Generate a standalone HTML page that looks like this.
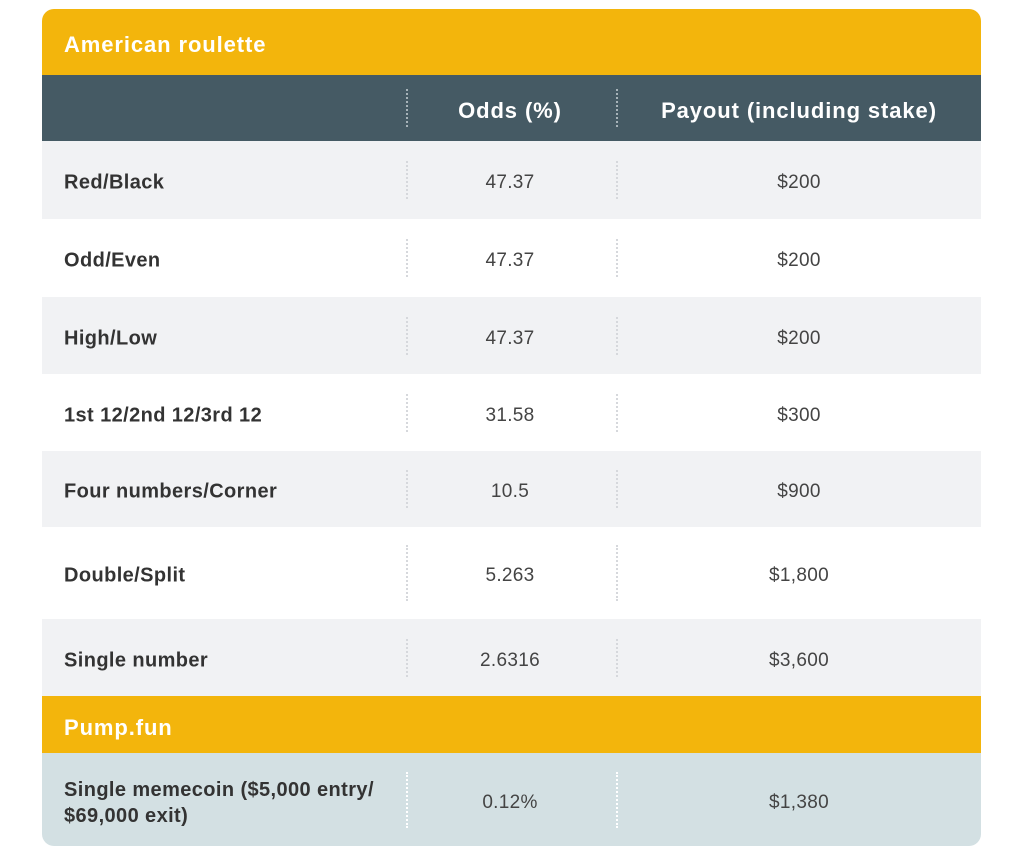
<!DOCTYPE html>
<html><head><style>
body{margin:0;width:1024px;height:854px;background:#fff;font-family:"Liberation Sans",sans-serif;position:relative;overflow:hidden}
.r{position:absolute;left:42px;width:939px;}
.t{position:absolute;top:50%;transform:translateY(-50%);margin-top:3px;font-size:19px;color:#333;white-space:nowrap}
.l{left:22px;font-weight:bold;font-size:20px;letter-spacing:0.4px}
.c1{left:368px;width:200px;text-align:center;color:#444;letter-spacing:0.3px}
.c2{left:557px;width:400px;text-align:center;color:#444;letter-spacing:0.3px}
.d{position:absolute;top:50%;height:38px;margin-top:-19px;border-left:2px dotted #d6d8dc;width:0}
.h{color:#fff;font-weight:bold;font-size:22px;letter-spacing:0.9px}
</style></head><body>
<div class="r" style="top:9px;height:66px;background:#F3B50C;border-radius:12px 12px 0 0"><div class="t l h">American roulette</div></div>
<div class="r" style="top:75px;height:66px;background:#455A64">
<div class="d" style="left:364px;border-color:#a7b3b9"></div><div class="d" style="left:574px;border-color:#a7b3b9"></div>
<div class="t c1 h">Odds (%)</div><div class="t c2 h">Payout (including stake)</div></div>

<div class="r" style="top:141px;height:78px;background:#F1F2F4"><div class="d" style="left:364px"></div><div class="d" style="left:574px"></div><div class="t l">Red/Black</div><div class="t c1">47.37</div><div class="t c2">$200</div></div>
<div class="r" style="top:219px;height:78px;background:#fff"><div class="d" style="left:364px"></div><div class="d" style="left:574px"></div><div class="t l">Odd/Even</div><div class="t c1">47.37</div><div class="t c2">$200</div></div>
<div class="r" style="top:297px;height:77px;background:#F1F2F4"><div class="d" style="left:364px"></div><div class="d" style="left:574px"></div><div class="t l">High/Low</div><div class="t c1">47.37</div><div class="t c2">$200</div></div>
<div class="r" style="top:374px;height:77px;background:#fff"><div class="d" style="left:364px"></div><div class="d" style="left:574px"></div><div class="t l">1st 12/2nd 12/3rd 12</div><div class="t c1">31.58</div><div class="t c2">$300</div></div>
<div class="r" style="top:451px;height:76px;background:#F1F2F4"><div class="d" style="left:364px"></div><div class="d" style="left:574px"></div><div class="t l">Four numbers/Corner</div><div class="t c1">10.5</div><div class="t c2">$900</div></div>
<div class="r" style="top:527px;height:92px;background:#fff"><div class="d" style="left:364px;height:56px;margin-top:-28px"></div><div class="d" style="left:574px;height:56px;margin-top:-28px"></div><div class="t l">Double/Split</div><div class="t c1">5.263</div><div class="t c2">$1,800</div></div>
<div class="r" style="top:619px;height:77px;background:#F1F2F4"><div class="d" style="left:364px"></div><div class="d" style="left:574px"></div><div class="t l">Single number</div><div class="t c1">2.6316</div><div class="t c2">$3,600</div></div>
<div class="r" style="top:696px;height:57px;background:#F3B50C"><div class="t l h">Pump.fun</div></div>
<div class="r" style="top:753px;height:93px;background:#D3E0E3;border-radius:0 0 12px 12px"><div class="d" style="left:364px;height:56px;margin-top:-28px;border-color:#fff"></div><div class="d" style="left:574px;height:56px;margin-top:-28px;border-color:#fff"></div><div class="t l" style="line-height:26px">Single memecoin ($5,000 entry/<br>$69,000 exit)</div><div class="t c1">0.12%</div><div class="t c2">$1,380</div></div>
</body></html>
